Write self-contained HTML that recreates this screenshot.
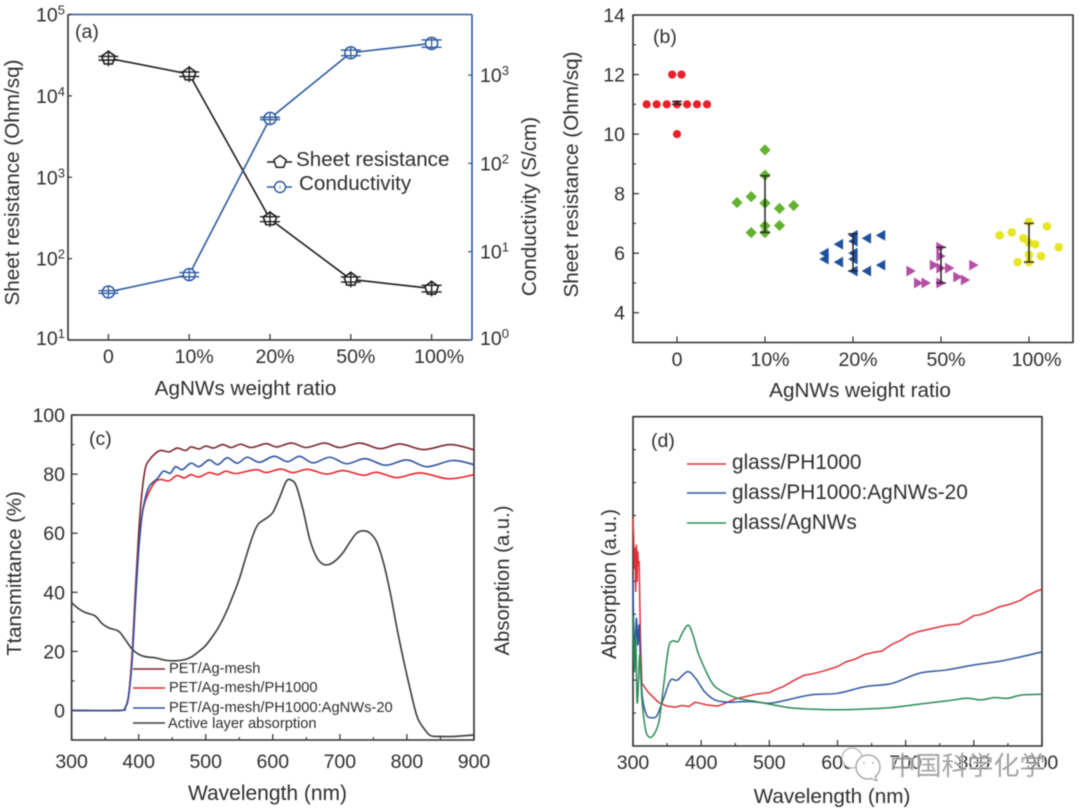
<!DOCTYPE html>
<html lang="en">
<head>
<meta charset="utf-8">
<title>AgNWs weight ratio charts</title>
<style>
html,body{margin:0;padding:0;background:#fff;width:1080px;height:810px;overflow:hidden}
svg{display:block;filter:blur(0.45px)}
text{font-family:"Liberation Sans","Noto Sans CJK SC",sans-serif;fill:#2e2e2e}
</style>
</head>
<body>
<svg id="fig" width="1080" height="810" viewBox="0 0 1080 810" xmlns="http://www.w3.org/2000/svg">
<rect width="1080" height="810" fill="#fff"/>
<g id="pa">
<text x="75" y="38" font-size="19.5">(a)</text>
<text x="245.5" y="395" font-size="20.7" text-anchor="middle">AgNWs weight ratio</text>
<text transform="translate(19,182.5) rotate(-90)" font-size="20.7" text-anchor="middle">Sheet resistance (Ohm/sq)</text>
<text transform="translate(536,206.5) rotate(-90)" font-size="20.7" text-anchor="middle">Conductivity (S/cm)</text>
<text x="296" y="166" font-size="20.6">Sheet resistance</text>
<text x="299" y="190" font-size="20.6">Conductivity</text>
</g>
<g id="pb">
<text x="653" y="43" font-size="19.5">(b)</text>
<text x="860" y="397" font-size="20.7" text-anchor="middle">AgNWs weight ratio</text>
<text transform="translate(578,174.5) rotate(-90)" font-size="20.7" text-anchor="middle">Sheet resistance (Ohm/sq)</text>
</g>
<g id="pc">
<text x="89" y="445" font-size="19.5">(c)</text>
<text x="267.5" y="800" font-size="21" text-anchor="middle">Wavelength (nm)</text>
<text transform="translate(21,573.5) rotate(-90)" font-size="20.3" text-anchor="middle">Ttansmittance (%)</text>
<text transform="translate(509,580.5) rotate(-90)" font-size="20.3" text-anchor="middle">Absorption (a.u.)</text>
<text x="169" y="673" font-size="14.7">PET/Ag-mesh</text>
<text x="169" y="692" font-size="14.7">PET/Ag-mesh/PH1000</text>
<text x="169" y="712" font-size="14.7">PET/Ag-mesh/PH1000:AgNWs-20</text>
<text x="168" y="728" font-size="14.7">Active layer absorption</text>
</g>
<g id="pd">
<text x="651" y="447" font-size="19.5">(d)</text>
<text x="832" y="803" font-size="20.7" text-anchor="middle">Wavelength (nm)</text>
<text transform="translate(616,584) rotate(-90)" font-size="20.3" text-anchor="middle">Absorption (a.u.)</text>
<text x="732" y="469" font-size="20.8">glass/PH1000</text>
<text x="732" y="499" font-size="20.8">glass/PH1000:AgNWs-20</text>
<text x="732" y="529" font-size="20.8">glass/AgNWs</text>
</g>
<g id="wm"></g>
</svg>
<script>
/* ---------- panel (a) data ---------- */
const aCategories = ['0','10%','20%','50%','100%'];
const aSheet = [29000,18500,306,55.5,43];
const aSheetErr = [1500,1200,22,4,4];
const aCond = [3.5,5.5,323,1790,2283];
const aCondErr = [0.12,0.3,10,130,220];
const aLeftExp = [1,2,3,4,5];
const aRightExp = [0,1,2,3];

/* ---------- panel (b) data ---------- */
const bCategories = ['0','10%','20%','50%','100%'];
const bYTicks = [4,6,8,10,12,14];
const bYMinor = [5,7,9,11,13];
const b0Jitter = [-0.345,-0.231,-0.116,0,0.114,0.227,0.341,-0.055,0.051,0];
const b0Values = [11,11,11,11,11,11,11,12,12,10];
const b1Jitter = [-0.318,-0.157,0,0,0,0.165,0.325,0,0.165,-0.157,0];
const b1Values = [7.7,7.9,9.47,8.62,7.68,7.5,7.6,6.92,6.93,6.69,6.69];
const b2Jitter = [-0.329,-0.329,-0.165,-0.165,0,0,0,0,0,0.153,0.153,0.314,0.314];
const b2Values = [6.0,5.8,6.3,5.7,6.6,6.4,6.0,5.8,5.4,6.5,5.4,6.6,5.6];
const b3Jitter = [-0.341,-0.255,-0.169,-0.075,0,0,0,0,0.098,0.192,0.278,0.373];
const b3Values = [5.4,5.0,5.0,5.6,6.2,5.9,5.5,5.0,5.5,5.2,5.1,5.6];
const b4Jitter = [-0.333,-0.196,-0.063,0,0.204,0,0.07,0.337,0,0.137,-0.129,0];
const b4Values = [6.6,6.7,6.5,7.05,6.9,6.35,6.3,6.2,5.95,5.9,5.7,5.7];
const bErrLow = [11,6.7,5.4,5.0,5.7];
const bErrHigh = [11.1,8.6,6.65,6.2,7.0];
const bErrMean = [11.05,7.65,6.0,5.5,6.35];

/* ---------- panel (c) data ---------- */
const cXTicks = [300,400,500,600,700,800,900];
const cXMinor = [350,450,550,650,750,850];
const cYTicks = [0,20,40,60,80,100];
const cYMinor = [-10,10,30,50,70,90];
const meshNm = [300,370,380,385,390,395,400,405,410,415,425,433,445,450,458,470,478,490,500,512,525,538,552,568,590,606,628,650,677,700,730,760,790,825,865,900];
const meshT = [0,0,1,5,18,40,60,74,82,84.5,87,88,87.5,88,88.8,88,89.2,88.5,89.5,88.8,90,89,90.1,89,90.3,89.2,90.5,89,90.5,89,90.5,88.6,90.2,88.3,90,88.2];
const ph1000Nm = [300,372,380,385,390,395,400,405,410,418,425,433,445,457,468,478,490,505,518,530,545,575,590,612,630,652,680,705,735,755,785,820,862,900];
const ph1000T = [0,0,1,5,18,38,55,66,71,75,77.5,78.2,77.7,79.5,78.7,79.8,79,80.5,79.8,81,80.2,81.5,80.5,81.7,80.5,81.6,80,81.2,79.6,80.6,78.8,80.4,78.4,79.8];
const agnwNm = [300,372,380,385,390,395,400,405,410,415,420,428,437,447,455,465,478,490,505,518,532,547,562,580,602,622,640,660,685,710,738,768,800,830,868,900];
const agnwT = [0,0,1,5,16,36,54,66,72,75.5,77,78.5,81,80.3,82.5,81.5,83.7,82.5,84.8,83.2,85.5,83.7,85.7,84,86,84.2,86,83.8,85.7,83.5,85.2,83,84.8,82.5,84.6,83.2];
const activeNm = [300,310,320,335,345,355,370,380,390,400,410,425,440,455,470,480,490,500,510,520,530,540,550,560,570,578,590,600,610,620,627,635,645,655,665,675,685,695,705,715,725,735,745,755,765,775,785,795,805,815,825,835,850,870,900];
const activeA = [36.5,34.5,33.2,32,29.5,28,26.8,24,20.8,19,18.2,17.8,17,16.8,17.3,18.3,20,22,25,28.5,33,38.5,44.5,52,59,63,65,67,72,77.5,78,76,68,58,52,49.5,49.5,51,53.5,57,60,60.8,60,57,50,40,28,17,7,-2,-6,-8.5,-8.8,-8.8,-8.3];

/* ---------- panel (d) data ---------- */
const dXTicks = [300,400,500,600,700,800,900];
const dXMinor = [350,450,550,650,750,850];
const dYTicks = [1,2,3,4,5,6,7,8,9];
const dRedNm = [300,301,302,303,304,305,306,307,308,309,310,311,313,322,337,350,362,372,382,391,398,408,424,433,450,465,480,490,500,510,520,535,550,565,580,600,612,625,640,655,665,680,692,705,718,735,750,762,778,790,800,808,822,838,852,868,880,892,900];
const dRedA = [6.91,6.3,5.4,6.0,4.7,6.1,5.0,5.9,5.5,5.6,4.3,3.2,1.91,1.64,1.33,1.21,1.18,1.23,1.2,1.33,1.3,1.25,1.21,1.28,1.43,1.5,1.57,1.6,1.62,1.72,1.8,1.98,2.14,2.2,2.28,2.41,2.55,2.63,2.78,2.85,2.88,3.09,3.2,3.37,3.47,3.55,3.62,3.67,3.7,3.83,3.96,3.98,4.08,4.23,4.3,4.42,4.58,4.7,4.76];
const dBlueNm = [300,301,303,305,307,309,311,314,320,327,335,345,355,365,380,392,405,420,440,470,500,520,560,600,640,680,720,760,800,840,880,900];
const dBlueA = [5.09,3.78,2.97,3.88,3.07,3.67,2.46,1.45,0.94,0.86,0.92,1.45,2.0,2.0,2.26,2.05,1.65,1.4,1.33,1.35,1.3,1.37,1.55,1.6,1.8,1.9,2.21,2.31,2.46,2.58,2.76,2.86];
const dGreenNm = [300,302,304,306,308,310,313,318,323,330,338,345,352,358,366,372,381,388,395,405,415,425,450,480,500,530,560,600,650,680,720,760,790,810,830,850,870,900];
const dGreenA = [3.98,2.26,3.27,1.35,1.95,2.76,1.45,0.54,0.28,0.33,0.74,1.85,2.97,3.19,3.17,3.42,3.67,3.37,2.86,2.36,1.95,1.73,1.47,1.35,1.27,1.16,1.12,1.1,1.13,1.17,1.27,1.37,1.45,1.4,1.47,1.45,1.55,1.57];

/* ---------- helpers ---------- */
const NS = 'http://www.w3.org/2000/svg';
const INK = '#2e2e2e', BLUE = '#2c5aa0';
function linear(d0,d1,r0,r1){return v=>r0+(v-d0)*(r1-r0)/(d1-d0);}
function log10Scale(d0,d1,r0,r1){return v=>r0+(Math.log10(v)-d0)*(r1-r0)/(d1-d0);}
function addLine(p,name,x1,y1,x2,y2,stroke,w){
  const el=document.createElementNS(NS,'line');
  
  
  el.setAttribute('x1',x1);el.setAttribute('y1',y1);el.setAttribute('x2',x2);el.setAttribute('y2',y2);
  el.setAttribute('stroke',stroke);el.setAttribute('stroke-width',w);
  p.appendChild(el);return el;
}
function addLabel(p,name,x,y,txt,size,anchor){
  const el=document.createElementNS(NS,'text');
  
  
  el.setAttribute('x',x);el.setAttribute('y',y);el.setAttribute('font-size',size);el.setAttribute('text-anchor',anchor);
  el.textContent=txt;p.appendChild(el);return el;
}
function addPower(p,name,x,y,exp){
  const el=document.createElementNS(NS,'text');
  
  
  el.setAttribute('x',x);el.setAttribute('y',y);el.setAttribute('font-size',19.5);
  const b=document.createElementNS(NS,'tspan');b.textContent='10';el.appendChild(b);
  const s=document.createElementNS(NS,'tspan');s.setAttribute('dy','-7');s.setAttribute('font-size','13');s.textContent=exp;el.appendChild(s);
  p.appendChild(el);return el;
}
function addPath(p,name,d,stroke,w,fill){
  const el=document.createElementNS(NS,'path');
  
  
  el.setAttribute('d',d);el.setAttribute('stroke',stroke);el.setAttribute('stroke-width',w);
  el.setAttribute('fill',fill||'none');el.setAttribute('stroke-linejoin','round');
  p.appendChild(el);return el;
}
function addCircle(p,name,cx,cy,r,fill,stroke,w){
  const el=document.createElementNS(NS,'circle');
  
  
  el.setAttribute('cx',cx);el.setAttribute('cy',cy);el.setAttribute('r',r);
  el.setAttribute('fill',fill);el.setAttribute('stroke',stroke||'none');el.setAttribute('stroke-width',w||0);
  p.appendChild(el);return el;
}
function polyD(xs,ys,fx,fy){return xs.map((x,i)=>(i?'L':'M')+fx(x).toFixed(2)+' '+fy(ys[i]).toFixed(2)).join(' ');}
function smoothD(xs,ys,fx,fy){
  const P=xs.map((x,i)=>[fx(x),fy(ys[i])]);
  let d='M'+P[0][0].toFixed(2)+' '+P[0][1].toFixed(2);
  for(let i=0;i<P.length-1;i++){
    const a=P[Math.max(i-1,0)],b=P[i],c=P[i+1],e=P[Math.min(i+2,P.length-1)];
    d+=' C'+(b[0]+(c[0]-a[0])/6).toFixed(2)+' '+(b[1]+(c[1]-a[1])/6).toFixed(2)+' '+(c[0]-(e[0]-b[0])/6).toFixed(2)+' '+(c[1]-(e[1]-b[1])/6).toFixed(2)+' '+c[0].toFixed(2)+' '+c[1].toFixed(2);
  }
  return d;
}
function pentagonD(cx,cy,r){
  let d='';
  for(let k=0;k<5;k++){const t=(-90+72*k)*Math.PI/180;d+=(k?'L':'M')+(cx+r*Math.cos(t)).toFixed(2)+' '+(cy+r*Math.sin(t)).toFixed(2);}
  return d+'Z';
}
function catNudge(label){return (label.length-1)*2.5;}
const pa=document.getElementById('pa'),pb=document.getElementById('pb'),pc=document.getElementById('pc'),pd=document.getElementById('pd'),wm=document.getElementById('wm');

/* ---------- panel (a) ---------- */
(function(){
  const L=68,R=472,T=14.5,B=340;
  const x=linear(-0.5,4.5,L,R), yL=log10Scale(1,5,B,T), yR=log10Scale(0,3.686,B,T);
  addLine(pa,'panel-a-top-spine',L,T,R,T,BLUE,1.6);
  addLine(pa,'panel-a-right-spine',R,T,R,B,BLUE,1.6);
  addLine(pa,'panel-a-left-spine',L,T,L,B,INK,1.6);
  addLine(pa,'panel-a-bottom-spine',L,B,R,B,INK,1.6);
  aCategories.forEach((c,i)=>{
    addLine(pa,'panel-a-x-tick',x(i),B,x(i),B-6,INK,1.2);
    addLabel(pa,'panel-a-x-tick-label',x(i)+catNudge(c),363,c,19.5,'middle');
  });
  aLeftExp.forEach(e=>{
    const y=yL(Math.pow(10,e));
    addLine(pa,'panel-a-left-tick',L,y,L+4,y,INK,1.2);
    addPower(pa,'panel-a-left-tick-label',36,y+(e===1?5:7),e);
  });
  aRightExp.forEach(e=>{
    const y=yR(Math.pow(10,e));
    addLine(pa,'panel-a-right-tick',R,y,R-4,y,BLUE,1.2);
    addPower(pa,'panel-a-right-tick-label',480,y+(e===0?5:7),e);
  });
  addPath(pa,'sheet-resistance-line',polyD(aCategories.map((c,i)=>i),aSheet,x,yL),'#1c1c1c',1.6);
  addPath(pa,'conductivity-line',polyD(aCategories.map((c,i)=>i),aCond,x,yR),BLUE,1.6);
  aSheet.forEach((v,i)=>{
    const px=x(i),py=yL(v),hi=yL(v+aSheetErr[i]),lo=yL(v-aSheetErr[i]);
    addPath(pa,'sheet-resistance-point',pentagonD(px,py,7),'#1c1c1c',1.6,'#fff');
    addLine(pa,'sheet-resistance-error-bar',px,py-8,px,py+8,'#1c1c1c',1.4);
    addLine(pa,'sheet-resistance-error-cap-high',px-10,hi,px+10,hi,'#1c1c1c',1.4);
    addLine(pa,'sheet-resistance-error-cap-low',px-10,lo,px+10,lo,'#1c1c1c',1.4);
  });
  aCond.forEach((v,i)=>{
    const px=x(i),py=yR(v),hi=yR(v+aCondErr[i]),lo=yR(v-aCondErr[i]);
    addCircle(pa,'conductivity-point',px,py,6,'#fff',BLUE,1.5);
    addLine(pa,'conductivity-error-bar',px,py-6,px,py+6,BLUE,1.3);
    addLine(pa,'conductivity-error-cap-high',px-10,hi,px+10,hi,BLUE,1.4);
    addLine(pa,'conductivity-error-cap-low',px-10,lo,px+10,lo,BLUE,1.4);
  });
  addLine(pa,'legend-sheet-line',267,162,292,162,'#1c1c1c',1.4);
  addPath(pa,'legend-sheet-marker',pentagonD(280,162,6.5),'#1c1c1c',1.4,'#fff');
  addLine(pa,'legend-conductivity-line',267,187,292,187,BLUE,1.4);
  addCircle(pa,'legend-conductivity-marker',280,187,5.5,'#fff',BLUE,1.4);
  addCircle(pa,'legend-conductivity-dot',280,187,0.8,BLUE);
})();

/* ---------- panel (b) ---------- */
(function(){
  const L=633,R=1073,T=15,B=342.5;
  const x=linear(-0.5,4.5,L,R), y=linear(3,14,B,T);
  addPath(pb,'panel-b-frame',`M${L} ${T}H${R}V${B}H${L}Z`,INK,1.6);
  bCategories.forEach((c,i)=>{
    addLine(pb,'panel-b-x-tick',x(i),B,x(i),B-6,INK,1.2);
    addLabel(pb,'panel-b-x-tick-label',x(i)+catNudge(c),366,c,19.5,'middle');
  });
  bYTicks.forEach(v=>{
    addLine(pb,'panel-b-y-tick',L,y(v),L+6,y(v),INK,1.2);
    addLabel(pb,'panel-b-y-tick-label',625,y(v)+7,String(v),19.5,'end');
  });
  bYMinor.forEach(v=>{addLine(pb,'panel-b-y-minor-tick',L,y(v),L+3,y(v),INK,1.1);});
  function dots(i,jit,vals,name,color,r){
    vals.forEach((v,k)=>{addCircle(pb,name,x(i+jit[k]),y(v),r,color);});
  }
  dots(0,b0Jitter,b0Values,'sample-0-percent','#e8202a',4.1);
  b1Values.forEach((v,k)=>{
    const px=x(1+b1Jitter[k]),py=y(v);
    addPath(pb,'sample-10-percent',`M${px} ${py-5.6}L${px+5.6} ${py}L${px} ${py+5.6}L${px-5.6} ${py}Z`,'none',0,'#62b22f');
  });
  b2Values.forEach((v,k)=>{
    const px=x(2+b2Jitter[k]),py=y(v);
    addPath(pb,'sample-20-percent',`M${px-4.8} ${py}L${px+4.6} ${py-5.4}L${px+4.6} ${py+5.4}Z`,'none',0,'#1f4f9f');
  });
  b3Values.forEach((v,k)=>{
    const px=x(3+b3Jitter[k]),py=y(v);
    addPath(pb,'sample-50-percent',`M${px+4.8} ${py}L${px-4.6} ${py-5.4}L${px-4.6} ${py+5.4}Z`,'none',0,'#b44fa6');
  });
  dots(4,b4Jitter,b4Values,'sample-100-percent','#e8e524',4.3);
  bCategories.forEach((c,i)=>{
    const px=x(i);
    addLine(pb,'error-bar',px,y(bErrLow[i]),px,y(bErrHigh[i]),'#222',1.5);
    addLine(pb,'error-cap-low',px-5,y(bErrLow[i]),px+5,y(bErrLow[i]),'#222',1.3);
    addLine(pb,'error-cap-high',px-5,y(bErrHigh[i]),px+5,y(bErrHigh[i]),'#222',1.3);
    addCircle(pb,'mean-marker',px,y(bErrMean[i]),1,'#222');
  });
})();

/* ---------- panel (c) ---------- */
(function(){
  const L=71.6,R=474,T=415,B=740;
  const x=linear(300,900,L,R), y=linear(-10,100,B,T);
  addPath(pc,'panel-c-frame',`M${L} ${T}H${R}V${B}H${L}Z`,INK,1.6);
  cXTicks.forEach(v=>{
    addLine(pc,'panel-c-x-tick',x(v),B,x(v),B-6,INK,1.2);
    addLabel(pc,'panel-c-x-tick-label',x(v),768,String(v),19.5,'middle');
  });
  cXMinor.forEach(v=>{addLine(pc,'panel-c-x-minor-tick',x(v),B,x(v),B-3,INK,1.1);});
  cYTicks.forEach(v=>{
    addLine(pc,'panel-c-y-tick',L,y(v),L+6,y(v),INK,1.2);
    addLabel(pc,'panel-c-y-tick-label',65,y(v)+7,String(v),19.5,'end');
  });
  cYMinor.forEach(v=>{addLine(pc,'panel-c-y-minor-tick',L,y(v),L+3,y(v),INK,1.1);});
  addPath(pc,'active-layer-absorption-line',smoothD(activeNm,activeA,x,y),'#3a3a3a',1.6);
  addPath(pc,'pet-ag-mesh-line',smoothD(meshNm,meshT,x,y),'#7c2530',1.6);
  addPath(pc,'pet-ag-mesh-ph1000-line',smoothD(ph1000Nm,ph1000T,x,y),'#e6262e',1.6);
  addPath(pc,'pet-ag-mesh-ph1000-agnws-line',smoothD(agnwNm,agnwT,x,y),'#2d52a0',1.6);
  addLine(pc,'legend-line-pet-ag-mesh',133,669,165,669,'#7c2530',1.6);
  addLine(pc,'legend-line-ph1000',133,688,165,688,'#e6262e',1.6);
  addLine(pc,'legend-line-agnws',133,708,165,708,'#2d52a0',1.6);
  addLine(pc,'legend-line-active',133,723,165,723,'#3a3a3a',1.6);
})();

/* ---------- panel (d) ---------- */
(function(){
  const L=633,R=1042,T=416.7,B=746;
  const x=linear(300,900,L,R), y=linear(0,10,B,T);
  addPath(pd,'panel-d-frame',`M${L} ${T}H${R}V${B}H${L}Z`,INK,1.6);
  dXTicks.forEach(v=>{
    addLine(pd,'panel-d-x-tick',x(v),B,x(v),B-6,INK,1.2);
    addLabel(pd,'panel-d-x-tick-label',x(v),769,String(v),19.5,'middle');
  });
  dXMinor.forEach(v=>{addLine(pd,'panel-d-x-minor-tick',x(v),B,x(v),B-3,INK,1.1);});
  dYTicks.forEach(v=>{addLine(pd,'panel-d-y-tick',L,y(v),L+3,y(v),INK,1.1);});
  addPath(pd,'glass-ph1000-line',polyD(dRedNm,dRedA,x,y),'#e0303a',1.5);
  addPath(pd,'glass-ph1000-agnws-line',smoothD(dBlueNm,dBlueA,x,y),'#2f56a0',1.5);
  addPath(pd,'glass-agnws-line',smoothD(dGreenNm,dGreenA,x,y),'#2a8a55',1.5);
  addLine(pd,'legend-line-glass-ph1000',687,464,726,464,'#e0303a',1.6);
  addLine(pd,'legend-line-glass-ph1000-agnws',687,493,726,493,'#2f56a0',1.6);
  addLine(pd,'legend-line-glass-agnws',687,523,726,523,'#2a8a55',1.6);
})();

/* ---------- watermark ---------- */
(function(){
  addCircle(wm,'watermark-bubble-back',852,758,10,'#fff','#b4b4b4',1.2);
  addCircle(wm,'watermark-bubble-front',868,767,12,'#fff','#a0a0a0',1.3);
  addPath(wm,'watermark-bubble-tail','M870 778L877 781L875 776','#a0a0a0',1.2,'#fff');
  addCircle(wm,'watermark-eye-left',864,763,0.9,'#999');
  addCircle(wm,'watermark-eye-right',873,763,0.9,'#999');
  const t=addLabel(wm,'watermark-text',889.5,775,'中国科学化学',26,'start');
  t.setAttribute('style','fill:#8e8e8e;stroke:#fff;stroke-width:1.5px;paint-order:stroke;opacity:.8;font-family:"Liberation Sans","Noto Sans CJK SC",sans-serif');
})();
</script>
</body>
</html>
